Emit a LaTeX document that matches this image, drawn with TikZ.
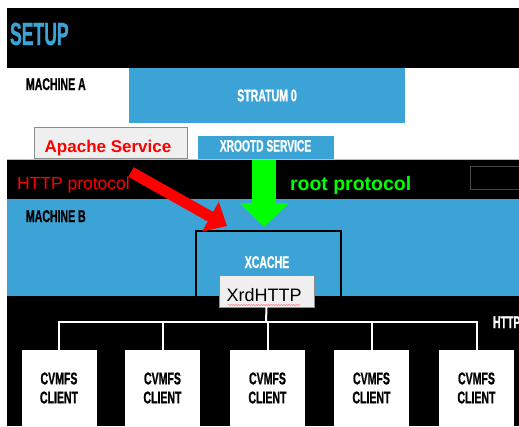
\documentclass[tikz,border=0pt]{standalone}
\usepackage{fontspec}
\setmainfont{Liberation Sans}
\newfontfamily\din[FakeStretch=0.62,FakeBold=0.8]{Liberation Sans}
\newfontfamily\dinwide[FakeStretch=0.55,FakeBold=0.8]{Liberation Sans}
\usetikzlibrary{arrows.meta,decorations.pathmorphing}
\definecolor{slideblue}{RGB}{59,163,214}
\definecolor{boxgray}{RGB}{239,239,239}
\definecolor{edgegray}{RGB}{140,140,140}
\definecolor{pgreen}{RGB}{0,255,0}
\definecolor{pred}{RGB}{255,0,0}
\definecolor{darkedge}{RGB}{70,70,70}
\begin{document}
\begin{tikzpicture}[x=1pt,y=-1pt,
  lbl/.style={inner sep=0pt,outer sep=0pt},
  dinlbl/.style={lbl,font=\din\bfseries\fontsize{17}{19}\selectfont},
  bluebox/.style={fill=slideblue,inner sep=0pt,outer sep=0pt},
  graybox/.style={fill=boxgray,draw=edgegray,line width=1pt,inner sep=0pt,outer sep=0pt},
  client/.style={fill=white,minimum width=75pt,minimum height=76pt,inner sep=0pt,outer sep=0pt,
    align=center,font=\din\bfseries\fontsize{17}{19}\selectfont,text=black},
  tree/.style={white,line width=2pt},
  redarrow/.style={pred,line width=11pt,-{Triangle[length=19pt,width=33pt]}},
  greenarrow/.style={pgreen,line width=24pt,-{Triangle[length=24pt,width=48pt]}}
]
\useasboundingbox (0,0) rectangle (519,426);
\clip (0,0) rectangle (519,426);
\fill[white] (0,0) rectangle (519,426);

% header
\fill[black] (7,8) rectangle (519,68);
\node[lbl,anchor=base west,text=slideblue,font=\dinwide\bfseries\fontsize{32}{34}\selectfont] (setup) at (10,45) {SETUP};

% machine A
\node[dinlbl,anchor=base west,text=black] (ma) at (26,90) {MACHINE A};
\node[bluebox,minimum width=276pt,minimum height=55pt,text=white,font=\din\bfseries\fontsize{17}{19}\selectfont] (stratum) at (267,95.5) {STRATUM 0};

\node[graybox,minimum width=153pt,minimum height=31pt] (apache) at (110.5,142.5) {};
\node[lbl,anchor=base,text=pred,font=\bfseries\fontsize{17}{19}\selectfont] (apachetxt) at (108,152) {Apache Service};

\node[bluebox,minimum width=136pt,minimum height=25pt] (xrootd) at (266,148) {};
\node[dinlbl,anchor=base,text=white,font=\din\bfseries\fontsize{16.5}{19}\selectfont] (xrootdtxt) at (265.5,151.5) {XROOTD SERVICE};

% bands
\fill[black] (7,160) rectangle (519,199);
\draw[gray!50,line width=0.8pt] (7,159.5) -- (519,159.5);
\fill[slideblue] (7,199) rectangle (519,296);

\draw[darkedge,line width=1pt] (470,166) rectangle (530,189);

\node[lbl,anchor=base west,text=pred,font=\fontsize{17.5}{20}\selectfont] (httptxt) at (17,189) {HTTP protocol};
\node[lbl,anchor=base west,text=pgreen,font=\bfseries\fontsize{19.5}{21}\selectfont] (roottxt) at (290,190) {root protocol};

\node[dinlbl,anchor=base west,text=black] (mb) at (26,222) {MACHINE B};

% xcache
\node[draw=black,line width=2pt,fill=slideblue,minimum width=145pt,minimum height=80pt,anchor=north west,inner sep=0pt] (xcache) at (195,230) {};
\fill[black] (7,296) rectangle (519,426);
\node[dinlbl,anchor=base,text=white] (xcachetxt) at (267,268) {XCACHE};

\node[graybox,minimum width=95pt,minimum height=32pt] (xrd) at (266.5,291) {};
\node[lbl,anchor=base,font=\fontsize{18}{20}\selectfont] (xrdtxt) at (264,301) {XrdHTTP};
\draw[red!55,line width=0.5pt,decorate,decoration={snake,amplitude=0.6pt,segment length=2.5pt}] (228,305) -- (300,305);

% clients
\node[client] (c1) at (59,388) {CVMFS\\CLIENT};
\node[client] (c2) at (162.5,388) {CVMFS\\CLIENT};
\node[client] (c3) at (267.5,388) {CVMFS\\CLIENT};
\node[client] (c4) at (371.5,388) {CVMFS\\CLIENT};
\node[client] (c5) at (476.5,388) {CVMFS\\CLIENT};

\coordinate (j) at (266,322);
\draw[tree] (xrd.south) -- (j);
\draw[tree] (c1.north) -- (c1.north |- j) -- (c5.north |- j) -- (c5.north);
\draw[tree] (c2.north) -- (c2.north |- j);
\draw[tree] (c3.north) -- (c3.north |- j);
\draw[tree] (c4.north) -- (c4.north |- j);

\node[dinlbl,anchor=base west,text=white] (httpright) at (493,328) {HTTP};

% arrows
\coordinate (rtail) at (131,172);
\coordinate (rtip) at (227,226);
\draw[redarrow] (rtail) -- (rtip);
\coordinate (gtop) at (264,160);
\coordinate (gtip) at (264,227);
\draw[greenarrow] (gtop) -- (gtip);
\end{tikzpicture}
\end{document}
